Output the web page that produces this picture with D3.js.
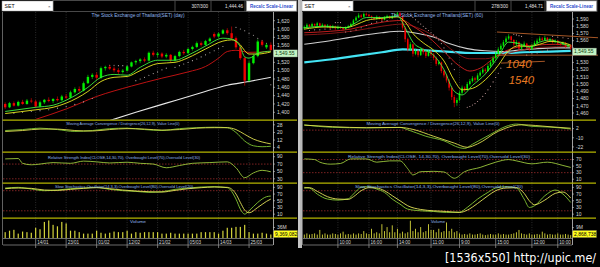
<!DOCTYPE html>
<html lang="en">
<head>
<meta charset="UTF-8">
<title>SET daily / 60 min</title>
<script src="https://d3js.org/d3.v7.min.js"></script>
<style>
  html, body { margin: 0; padding: 0; background: #000; overflow: hidden; }
  svg { display: block; font-family: "Liberation Sans", Arial, sans-serif; }
</style>
</head>
<body>
<svg id="chart" width="600" height="267"></svg>
<script>
// ---- daily chart (left) ----
// [open, high, low, close]
const dayCandles = [
  [1420,1424,1408,1412],[1412,1425,1410,1422],[1422,1426,1414,1416],[1416,1428,1414,1425],[1425,1430,1418,1420],
  [1420,1432,1418,1428],[1428,1434,1422,1426],[1426,1430,1410,1414],[1414,1428,1412,1424],[1424,1432,1420,1430],
  [1430,1436,1424,1427],[1427,1434,1422,1432],[1432,1438,1426,1429],[1429,1442,1427,1438],[1438,1444,1432,1435],
  [1435,1452,1434,1448],[1448,1460,1445,1456],[1456,1462,1448,1452],[1452,1474,1450,1470],[1470,1490,1468,1485],
  [1485,1494,1480,1490],[1490,1496,1478,1483],[1483,1510,1480,1506],[1506,1512,1500,1509],[1509,1514,1502,1505],
  [1505,1510,1496,1501],[1501,1506,1492,1497],[1497,1504,1493,1500],[1500,1512,1498,1510],[1510,1522,1508,1520],
  [1520,1526,1514,1523],[1523,1530,1518,1527],[1527,1532,1520,1524],[1524,1546,1522,1543],[1543,1548,1534,1538],
  [1538,1545,1532,1541],[1541,1544,1530,1534],[1534,1542,1530,1538],[1538,1540,1520,1525],[1525,1538,1522,1535],
  [1535,1548,1532,1545],[1545,1550,1538,1542],[1542,1555,1540,1552],[1552,1560,1548,1557],[1557,1570,1554,1566],
  [1566,1570,1558,1562],[1562,1574,1560,1571],[1571,1580,1568,1577],[1588,1592,1578,1582],[1582,1592,1580,1589],
  [1589,1600,1587,1597],[1597,1602,1586,1590],[1590,1606,1574,1578],[1578,1582,1552,1556],[1556,1560,1526,1530],
  [1530,1534,1464,1476],[1476,1524,1472,1518],[1518,1540,1515,1535],[1535,1575,1532,1570],[1570,1574,1558,1562],
  [1556,1566,1552,1562],[1562,1568,1546,1549.55]
];
const dayVolume = [20,25,28,15,22,20,18,35,30,55,60,45,40,55,50,25,25,20,15,15,15,25,18,15,18,22,20,20,25,15,
  20,18,20,20,20,20,15,15,18,15,15,15,15,15,15,20,20,20,20,15,25,35,35,38,38,45,20,15,15,18,15,12];
// moving averages, [bar, value]
const dayMaFast = [[0,1402],[7,1412],[11,1417],[14,1429],[19,1460],[22,1484],[25,1491],[28,1489],[31,1508],[35,1525],
  [39,1525],[42,1537],[46,1559],[50,1578],[52,1576],[54,1557],[55,1533],[56,1530],[58,1542],[61,1547]];
const dayMaSlow = [[0,1397],[7,1406],[11,1412],[14,1422],[19,1450],[22,1474],[25,1484],[28,1486],[31,1500],[35,1517],
  [39,1520],[42,1531],[46,1552],[50,1571],[52,1574],[54,1562],[55,1548],[56,1540],[58,1540],[61,1545]];
const dayMaMid = [[7,1383],[14,1408],[21,1438],[29,1463],[36,1482],[42,1497],[46,1510],[49,1530],[51,1546],[53,1549],[56,1544],[61,1546]];
const dayMaLong = [[24,1380],[30,1400],[37,1422],[45,1447],[51,1465],[56,1474],[61,1484]];
const daySar = [[2,1398],[4,1400],[6,1402],[8,1404],[10,1406],[12,1410],[14,1414],[16,1419],[18,1425],[20,1433],
  [24,1513],[25,1513],[26,1512],[27,1512],[28,1511],[30,1476],[31,1480],[32,1484],[33,1489],[34,1493],[35,1497],
  [36,1502],[37,1506],[39,1508],[40,1512],[41,1516],[42,1520],[43,1524],[44,1528],[45,1533],[46,1538],[47,1543],
  [48,1548],[49,1553],[50,1558],[53,1604],[54,1600],[55,1596],[56,1590],[57,1585],[58,1578],[59,1572],[60,1566],[61,1466]];
const dayMacd = [[0,22],[4,23],[8,24.5],[12,23],[16,21],[20,22],[24,24],[28,24.5],[32,23],[36,22],[40,24],[44,25],
  [48,25.5],[51,25],[53,20],[55,11],[57,6],[59,5],[61,5.5]];
const daySignal = [[0,21],[4,22],[8,23.5],[12,23.5],[16,22],[20,21.5],[24,23],[28,24],[32,23.5],[36,22.5],[40,23],
  [44,24.5],[48,25],[51,25],[53,23],[55,18],[57,13],[59,10],[61,8]];
const dayRsi = [[0,84],[3,85],[4,72],[6,68],[8,70],[11,74],[15,72],[18,78],[21,76],[24,73],[28,75],[31,72],[34,70],
  [37,60],[40,66],[43,72],[47,74],[51,76],[53,60],[55,33],[57,46],[59,53],[61,49]];
const dayStochK = [[0,88],[3,90],[6,85],[9,80],[12,82],[15,86],[18,88],[21,90],[24,84],[27,80],[30,78],[33,75],[36,77],
  [39,84],[42,88],[45,91],[48,92],[51,89],[53,55],[54,25],[55,10],[56,20],[58,45],[60,62],[61,64]];
const dayStochD = [[0,86],[3,88],[6,87],[9,82],[12,81],[15,84],[18,87],[21,89],[24,86],[27,82],[30,79],[33,77],[36,76],
  [39,81],[42,86],[45,89],[48,91],[51,90],[53,70],[54,45],[55,22],[56,14],[58,30],[60,48],[61,55]];
const dayGridBars = [7,14,21,28,35,42,49,56];
const dayGridLabels = ["14/01","23/01","01/02","12/02","21/02","05/03","14/03","25/03"];

// ---- 60 minute chart (right) ----
const hourCandles = [
  [1577,1581,1575,1579],[1579,1584,1578,1582],[1582,1583,1578,1580],[1580,1585,1579,1583],[1583,1584,1579,1581],
  [1581,1586,1580,1584],[1584,1585,1578,1580],[1580,1584,1579,1582],[1582,1583,1577,1579],[1579,1583,1578,1581],
  [1581,1582,1576,1578],[1578,1582,1577,1580],[1580,1581,1575,1577],[1577,1581,1576,1579],[1579,1580,1576,1578],
  [1578,1579,1574,1576],[1576,1580,1575,1578],[1578,1582,1577,1580],[1580,1585,1579,1583],[1583,1590,1582,1588],
  [1588,1594,1587,1592],[1592,1598,1591,1595],[1595,1597,1591,1593],[1593,1599,1592,1597],[1597,1599,1594,1596],
  [1596,1597,1592,1594],[1594,1595,1590,1592],[1592,1593,1588,1590],[1590,1595,1589,1593],[1593,1594,1589,1591],
  [1591,1592,1587,1589],[1589,1594,1588,1592],[1592,1596,1591,1594],[1594,1595,1590,1591],[1591,1595,1590,1593],
  [1593,1598,1592,1596],[1596,1601,1595,1598],[1598,1600,1592,1594],[1594,1595,1575,1578],[1578,1580,1558,1562],
  [1562,1564,1545,1548],[1548,1558,1546,1555],[1555,1556,1538,1542],[1542,1549,1540,1546],[1546,1548,1537,1540],
  [1540,1551,1539,1548],[1548,1550,1541,1544],[1544,1546,1536,1539],[1539,1548,1538,1545],[1545,1547,1538,1541],
  [1541,1543,1533,1536],[1536,1538,1525,1528],[1528,1533,1526,1530],[1530,1531,1515,1518],[1518,1520,1509,1512],
  [1512,1514,1502,1505],[1505,1507,1491,1495],[1495,1497,1478,1482],[1482,1485,1468,1474],[1474,1481,1470,1478],
  [1478,1491,1476,1488],[1488,1498,1486,1495],[1495,1497,1489,1492],[1492,1503,1491,1500],[1500,1507,1498,1504],
  [1504,1511,1502,1508],[1508,1510,1503,1506],[1506,1515,1505,1512],[1512,1519,1510,1516],[1516,1523,1514,1520],
  [1520,1522,1515,1518],[1518,1528,1517,1525],[1525,1533,1523,1530],[1530,1539,1528,1536],[1536,1545,1534,1542],
  [1542,1551,1540,1548],[1548,1556,1546,1553],[1553,1561,1551,1558],[1558,1566,1556,1563],[1563,1569,1561,1566],
  [1566,1567,1558,1561],[1561,1562,1552,1555],[1555,1561,1553,1558],[1558,1559,1546,1549],[1549,1556,1547,1553],
  [1553,1559,1551,1556],[1556,1557,1548,1550],[1550,1552,1545,1548],[1548,1556,1547,1553],[1553,1560,1552,1557],
  [1557,1563,1555,1560],[1560,1566,1558,1563],[1563,1565,1559,1561],[1561,1567,1560,1564],[1564,1565,1558,1560],
  [1560,1564,1559,1562],[1562,1563,1556,1558],[1558,1562,1557,1560],[1560,1561,1554,1556],[1556,1557,1553,1555],
  [1555,1559,1554,1557],[1557,1558,1550,1552],[1552,1556,1551,1554],[1554,1555,1547,1549.55]
];
const hourVolume = [3,4,3,3.5,4,3,7,3,4,3,3,4,3.5,3,4,5.5,3,3.5,3,4,3,4,3.5,6,4,3.5,8,4,5,4,
  12,6,9.5,5,11,5,8,4,5.5,4,5,15,6,8,5,9.5,5,6,12,7,7,5,8,5,6,13.5,6,8,5,6,
  4,3,3.5,3,4,3,3,3.5,4,3,2.5,3,3.5,3,3,4,3,3.5,3,3,3.5,4,5,7,4,3.5,3,4,3,3,
  3.5,3,5.5,4,3,3.5,3,3,4,3,3,3.5,3,2.5];
const hourMaFast = [[0,1578],[8,1580],[16,1578],[20,1585],[24,1592],[30,1592],[36,1594],[39,1578],[42,1558],[46,1548],
  [50,1540],[54,1520],[58,1490],[61,1485],[65,1498],[70,1514],[75,1538],[79,1558],[83,1556],[87,1551],[91,1558],
  [95,1561],[99,1557],[103,1552]];
const hourMaSlow = [[0,1576],[8,1579],[16,1578],[20,1582],[24,1588],[30,1591],[36,1593],[39,1586],[42,1570],[46,1557],
  [50,1547],[54,1532],[58,1505],[61,1492],[65,1494],[70,1506],[75,1526],[79,1546],[83,1553],[87,1552],[91,1555],
  [95,1559],[99,1558],[103,1554]];
const hourMaRed = [[0,1571],[10,1573],[18,1576],[25,1582],[33,1587],[38,1588],[42,1580],[48,1565],[54,1545],[60,1525],
  [64,1518],[68,1522],[73,1535],[78,1546],[84,1552],[90,1554],[97,1555],[103,1553]];
const hourMaDark = [[0,1568],[10,1570],[20,1574],[30,1580],[38,1583],[45,1576],[52,1562],[58,1545],[64,1535],[70,1535],
  [76,1540],[84,1547],[92,1551],[103,1552]];
const hourMaWhite = [[0,1555],[10,1560],[20,1566],[30,1571],[37,1573],[44,1570],[50,1565],[56,1556],[63,1549],[70,1546],
  [76,1545],[83,1547],[90,1549],[97,1550],[103,1550]];
const hourMaCyan = [[0,1530],[10,1534],[20,1539],[30,1544],[38,1548],[45,1547],[55,1545],[65,1543],[75,1543],[85,1544],
  [95,1545],[103,1546]];
const hourSar = [[2,1574],[4,1575],[6,1575],[8,1576],[10,1576],[12,1585],[13,1585],[14,1585],[16,1572],[18,1573],
  [20,1575],[22,1578],[24,1581],[26,1584],[28,1586],[30,1587],[32,1588],[38,1601],[39,1600],[40,1598],[41,1595],
  [42,1592],[43,1589],[44,1586],[45,1583],[46,1580],[47,1577],[48,1574],[49,1571],[50,1568],[51,1565],[52,1561],
  [53,1556],[54,1550],[55,1543],[56,1536],[57,1528],[58,1520],[63,1468],[64,1469],[65,1471],[66,1473],[67,1476],
  [68,1479],[69,1483],[70,1487],[71,1492],[72,1497],[73,1503],[74,1509],[75,1515],[76,1522],[81,1569],[82,1568],
  [83,1567],[84,1566],[86,1540],[88,1542],[90,1543],[92,1545],[94,1547],[96,1566],[98,1565],[100,1564],[102,1563]];
const hourMacd = [[0,7],[11,3.7],[24,3],[37,3.5],[40,0.5],[47,-8],[54,-14],[60,-23],[62,-24],[65,-18.5],[72,-5.5],
  [78,5],[82,8],[88,5],[95,4],[103,1.5]];
const hourSignal = [[0,6.5],[11,4.5],[24,3.2],[37,3.6],[42,1],[50,-8],[58,-17],[63,-22.5],[67,-18],[75,-1.5],[84,7],
  [95,4.5],[103,2.5]];
const hourRsi = [[0,72],[4,70],[6,62],[10,56],[14,58],[18,72],[24,72],[28,62],[33,66],[37,66],[40,42],[42,23],[45,33],
  [50,34],[54,32],[58,13],[62,33],[68,46],[74,62],[79,70],[82,66],[88,57],[94,62],[100,52],[103,46]];
const hourStochK = [[0,90],[2,88],[5,70],[9,55],[13,52],[17,56],[19,70],[22,90],[25,92],[28,85],[31,75],[34,55],[37,40],
  [40,25],[45,20],[50,18],[55,15],[60,16],[63,30],[67,55],[71,75],[74,88],[78,92],[82,88],[85,55],[87,30],[89,35],
  [93,65],[97,82],[100,70],[103,45]];
const hourStochD = [[0,88],[2,89],[5,78],[9,62],[13,55],[17,54],[19,62],[22,80],[25,89],[28,88],[31,80],[34,65],[37,50],
  [40,35],[45,24],[50,20],[55,18],[60,15],[63,22],[67,42],[71,65],[74,80],[78,88],[82,89],[85,72],[87,50],[89,38],
  [93,52],[97,72],[100,76],[103,58]];
const hourGridBars = [13,25,36,49,60,74,88,98];
const hourGridLabels = ["10:00","16:00","14:00","11:00","9:00","15:00","12:00","10:00"];
// drawn trend lines [bar0, price0, bar1, price1] and notes [text, bar, price]
const hourTrendLines = [[74.5,1572,114,1564],[74.5,1540,114,1540],[76,1529,93,1531.5]];
const hourNotes = [["1040",78,1522],["1540",79,1500]];

const svg = d3.select("#chart");
svg.append("rect").attr("width", 600).attr("height", 267).attr("fill", "#000");

const rows = { price: [12, 119.5], macd: [121, 151.5], rsi: [153, 182.5], stoch: [184, 217.5], vol: [219, 238] };
const fmt = d3.format(",");

function drawChart(p) {
  const n = p.candles.length;
  const x = d3.scaleLinear().domain([-0.5, n - 0.5]).range([p.left, p.right]);
  const step = x(1) - x(0);
  const yP = d3.scaleLinear().domain(p.priceDomain).range(p.priceRange);
  const yM = d3.scaleLinear().domain(p.macdDomain).range([rows.macd[1], rows.macd[0]]);
  const yR = d3.scaleLinear().domain(p.rsiDomain).range([rows.rsi[1], rows.rsi[0]]);
  const yS = d3.scaleLinear().domain([0, 100]).range([rows.stoch[1], rows.stoch[0]]);
  const yV = d3.scaleLinear().domain(p.volDomain).range([rows.vol[1], rows.vol[0]]);
  const g = svg.append("g");

  const clip = (name, r, x1) => {
    const id = p.id + name;
    svg.append("clipPath").attr("id", id).append("rect")
      .attr("x", p.left).attr("y", r[0]).attr("width", (x1 || p.right) - p.left).attr("height", r[1] - r[0]);
    return "url(#" + id + ")";
  };
  const cP = clip("p", rows.price), cM = clip("m", rows.macd), cR = clip("r", rows.rsi),
        cS = clip("s", rows.stoch), cV = clip("v", rows.vol), cT = clip("t", rows.price, 598);

  // frame: left edge, price axis line, bottom axis lines
  g.append("line").attr("x1", p.left - 0.5).attr("x2", p.left - 0.5).attr("y1", 12).attr("y2", 245)
    .attr("stroke", "#7a7a7a").attr("stroke-width", 0.8);
  g.append("line").attr("x1", p.right + 0.5).attr("x2", p.right + 0.5).attr("y1", 12).attr("y2", 245)
    .attr("stroke", "#c8c8c8").attr("stroke-width", 0.8);
  [238.5, 245].forEach(yy => g.append("line").attr("x1", p.left).attr("x2", p.right).attr("y1", yy).attr("y2", yy)
    .attr("stroke", "#9a9a9a").attr("stroke-width", 0.7));

  // vertical grid
  g.selectAll(".grid").data(p.gridBars).join("line")
    .attr("x1", d => x(d)).attr("x2", d => x(d)).attr("y1", 12).attr("y2", 238)
    .attr("stroke", "#3c3c3c").attr("stroke-width", 0.7).attr("stroke-dasharray", "1,1.5");
  g.selectAll(".gtick").data(p.gridBars).join("line")
    .attr("x1", d => x(d)).attr("x2", d => x(d)).attr("y1", 238.5).attr("y2", 248)
    .attr("stroke", "#9a9a9a").attr("stroke-width", 0.7);
  g.selectAll(".glab").data(p.gridBars).join("text")
    .attr("x", d => x(d) + 1.5).attr("y", 243.6).attr("font-size", 4.6).attr("fill", "#d8d8d8")
    .text((d, i) => p.gridLabels[i]);

  // panel separators
  [120.2, 152.2, 183.2, 218.2].forEach(yy => g.append("line")
    .attr("x1", p.left - 0.5).attr("x2", p.right + 24).attr("y1", yy).attr("y2", yy)
    .attr("stroke", "#b4b400").attr("stroke-width", 1.3));

  // dotted reference levels
  const refs = [[yR, p.rsiRefs], [yS, [80, 20]], [yM, p.macdRefs]];
  refs.forEach(([sc, vals]) => vals.forEach(v => g.append("line")
    .attr("x1", p.left).attr("x2", p.right).attr("y1", sc(v)).attr("y2", sc(v))
    .attr("stroke", "#b03030").attr("stroke-width", 0.7).attr("stroke-dasharray", "1.5,1.5")));

  const lineGen = sc => d3.line().x(d => x(d[0])).y(d => sc(d[1])).curve(d3.curveMonotoneX);
  const series = (clipUrl, pts, sc, color, w) => g.append("path").datum(pts).attr("clip-path", clipUrl)
    .attr("fill", "none").attr("stroke", color).attr("stroke-width", w).attr("d", lineGen(sc));

  // moving averages behind candles
  p.maLines.forEach(m => series(cP, m.data, yP, m.color, m.w));

  // parabolic sar dots
  g.append("g").attr("clip-path", cP).selectAll("circle").data(p.sar).join("circle")
    .attr("cx", d => x(d[0])).attr("cy", d => yP(d[1])).attr("r", 0.55).attr("fill", p.sarColor);

  // candles
  const cg = g.append("g").attr("clip-path", cP);
  const col = d => d[3] >= d[0] ? "#00f000" : "#f00000";
  cg.selectAll(".wick").data(p.candles).join("line")
    .attr("x1", (d, i) => x(i)).attr("x2", (d, i) => x(i))
    .attr("y1", d => yP(d[1])).attr("y2", d => yP(d[2]))
    .attr("stroke", col).attr("stroke-width", 0.6);
  cg.selectAll(".body").data(p.candles).join("rect")
    .attr("x", (d, i) => x(i) - step * p.bodyFrac / 2).attr("width", step * p.bodyFrac)
    .attr("y", d => yP(Math.max(d[0], d[3])))
    .attr("height", d => Math.max(0.8, Math.abs(yP(d[0]) - yP(d[3]))))
    .attr("fill", col);

  // fast lines on top of candles
  p.topLines.forEach(m => series(cP, m.data, yP, m.color, m.w));

  // drawn trend lines and notes
  (p.trend || []).forEach(t => g.append("line").attr("clip-path", cT)
    .attr("x1", x(t[0])).attr("y1", yP(t[1])).attr("x2", x(t[2])).attr("y2", yP(t[3]))
    .attr("stroke", "#b8602a").attr("stroke-width", 0.9));
  (p.notes || []).forEach(t => g.append("text").attr("x", x(t[1])).attr("y", yP(t[2]))
    .attr("font-size", 11.5).attr("font-style", "italic").attr("fill", "#e87a22").text(t[0]));

  // indicators
  series(cM, p.macd, yM, "#7cc232", 0.9);
  series(cM, p.signal, yM, "#dede50", 0.9);
  series(cR, p.rsi, yR, "#9cc83c", 0.9);
  series(cS, p.stochK, yS, "#84c834", 0.9);
  series(cS, p.stochD, yS, "#e4e45a", 0.9);

  // volume
  g.append("g").attr("clip-path", cV).selectAll("rect").data(p.volume).join("rect")
    .attr("x", (d, i) => x(i) - p.volW / 2).attr("width", p.volW)
    .attr("y", d => yV(d)).attr("height", d => yV(0) - yV(d)).attr("fill", "#d4d43c");

  // titles
  p.titles.forEach(t => g.append("text").attr("x", t[1]).attr("y", t[2]).attr("text-anchor", "middle")
    .attr("font-size", t[4]).attr("fill", "#8fb4ea").attr("textLength", t[3])
    .attr("lengthAdjust", "spacingAndGlyphs").text(t[0]));

  // last value box position (sits a little under the value, as in the original)
  const lastY = yP(p.candles[n - 1][3]) + 3.4;

  // axis ticks and labels
  const axisLabels = (sc, ticks, f, skip) => ticks.forEach(v => {
    g.append("line").attr("x1", p.right).attr("x2", p.right + 2).attr("y1", sc(v)).attr("y2", sc(v))
      .attr("stroke", "#c8c8c8").attr("stroke-width", 0.6);
    if (skip && Math.abs(sc(v) - skip) < 7) return;  // hidden under the value box
    g.append("text").attr("x", p.right + 4).attr("y", sc(v) + 1.8).attr("font-size", 5)
      .attr("fill", "#d8d8d8").text(f ? f(v) : v);
  });
  axisLabels(yP, p.priceTicks, fmt, lastY);
  axisLabels(yM, p.macdTicks);
  axisLabels(yR, p.rsiTicks);
  axisLabels(yS, [90, 70, 50, 30, 10]);
  axisLabels(yV, [p.volTick], v => v + "M");

  // last value boxes
  const box = (cy, fill, txt, color) => {
    g.append("rect").attr("x", p.right + 0.5).attr("y", cy - 3.6).attr("width", 24).attr("height", 7.2)
      .attr("fill", fill).attr("stroke", "#606060").attr("stroke-width", 0.4);
    g.append("text").attr("x", p.right + 2).attr("y", cy + 1.8).attr("font-size", 5).attr("fill", color).text(txt);
  };
  box(lastY, "#c4f4c4", "1,549.55", "#104010");
  box(234, "#ffff1e", p.volBox, "#000");

  // top bar
  const o = p.barX;
  g.append("rect").attr("x", o + 53).attr("y", 0.5).attr("width", 244).attr("height", 11)
    .attr("fill", "#000").attr("stroke", "#5a5a5a").attr("stroke-width", 0.8);
  [175, 211, 245].forEach(s => g.append("line").attr("x1", o + s).attr("x2", o + s).attr("y1", 0.5).attr("y2", 11.5)
    .attr("stroke", "#5a5a5a").attr("stroke-width", 0.8));
  g.append("rect").attr("x", o + 2).attr("y", 1).attr("width", 51).attr("height", 10)
    .attr("fill", "#fff").attr("stroke", "#999").attr("stroke-width", 0.5);
  g.append("text").attr("x", o + 4.5).attr("y", 8).attr("font-size", 5.2).attr("fill", "#000").text("SET");
  g.append("text").attr("x", o + 48).attr("y", 7.8).attr("font-size", 4.4).attr("fill", "#444").text("×");
  g.append("text").attr("x", o + 208).attr("y", 8).attr("text-anchor", "end").attr("font-size", 4.6)
    .attr("fill", "#e0e0e0").text(p.counter);
  g.append("text").attr("x", o + 243).attr("y", 8).attr("text-anchor", "end").attr("font-size", 4.6)
    .attr("fill", "#e0e0e0").text(p.cursor);
  g.append("rect").attr("x", o + 246.5).attr("y", 1).attr("width", 50).attr("height", 10)
    .attr("fill", "#fff").attr("stroke", "#aaa").attr("stroke-width", 0.5);
  g.append("text").attr("x", o + 271.5).attr("y", 8).attr("text-anchor", "middle").attr("font-size", 5)
    .attr("font-weight", "bold").attr("fill", "#2f4fcc").attr("textLength", 43)
    .attr("lengthAdjust", "spacingAndGlyphs").text("Recalc Scale-Linear");
}

drawChart({
  id: "L", left: 3, right: 273, barX: 0,
  candles: dayCandles, volume: dayVolume, bodyFrac: 0.55, volW: 1.2,
  priceDomain: [1400, 1620], priceRange: [112.3, 20.7], priceTicks: d3.range(1400, 1621, 20),
  macdDomain: [0, 32], macdTicks: [28, 20, 12, 4], macdRefs: [],
  rsiDomain: [20, 100], rsiTicks: [90, 70, 50, 30], rsiRefs: [70, 30],
  volDomain: [0, 65], volTick: 36, volBox: "9,369,082",
  maLines: [{ data: dayMaLong, color: "#e6e6e6", w: 1.1 }, { data: dayMaMid, color: "#d01414", w: 0.9 }],
  topLines: [{ data: dayMaSlow, color: "#eaea20", w: 0.9 }, { data: dayMaFast, color: "#40f040", w: 0.9 }],
  sar: daySar, sarColor: "#bdb4b4",
  macd: dayMacd, signal: daySignal, rsi: dayRsi, stochK: dayStochK, stochD: dayStochD,
  gridBars: dayGridBars, gridLabels: dayGridLabels,
  counter: "307/300", cursor: "1,444.46",
  titles: [
    ["The Stock Exchange of Thailand(SET) (day)", 138, 17, 93, 4.6],
    ["Moving Average Convergence / Divergence(26,12,9), Value Line(0)", 123, 125, 113, 4.2],
    ["Relative Strength Index(CLOSE,14,30,70), Overbought Level(70),Oversold Level(30)", 124, 159.3, 152, 4.2],
    ["Slow Stochastics Oscillator(14,3,3),Overbought Level(80),Oversold Level(20)", 124, 188.3, 138, 4.2],
    ["Volume", 138, 222.8, 16, 4.2]
  ]
});

drawChart({
  id: "R", left: 303, right: 572, barX: 300,
  candles: hourCandles, volume: hourVolume, bodyFrac: 0.6, volW: 0.9,
  priceDomain: [1460, 1590], priceRange: [113, 19], priceTicks: d3.range(1460, 1591, 10),
  macdDomain: [-28, 12], macdTicks: [2, -10, -22], macdRefs: [0],
  rsiDomain: [0, 90], rsiTicks: [70, 50, 30, 10], rsiRefs: [70, 30],
  volDomain: [0, 16.5], volTick: 9, volBox: "2,868,738",
  maLines: [{ data: hourMaCyan, color: "#44e4f4", w: 2.2 }, { data: hourMaWhite, color: "#cfcfcf", w: 1.1 },
            { data: hourMaDark, color: "#901818", w: 0.9 }, { data: hourMaRed, color: "#d42020", w: 0.9 }],
  topLines: [{ data: hourMaSlow, color: "#eaea20", w: 0.9 }, { data: hourMaFast, color: "#40f040", w: 0.9 }],
  sar: hourSar, sarColor: "#d2a6a6",
  macd: hourMacd, signal: hourSignal, rsi: hourRsi, stochK: hourStochK, stochD: hourStochD,
  gridBars: hourGridBars, gridLabels: hourGridLabels,
  trend: hourTrendLines, notes: hourNotes,
  counter: "278/300", cursor: "1,484.71",
  titles: [
    ["The Stock Exchange of Thailand(SET) (60)", 437, 17, 92, 4.6],
    ["Moving Average Convergence / Divergence(26,12,9), Value Line(0)", 433, 125, 133, 4.2],
    ["Relative Strength Index(CLOSE, 14,30,70), Overbought Level(70),Oversold Level(30)", 439, 157.5, 182, 4.2],
    ["Slow Stochastics Oscillator(14,3,3),Overbought Level(80),Oversold Level(20)", 439, 188, 168, 4.2],
    ["Volume", 438, 222.8, 14, 4.2]
  ]
});

// splitter between the two windows
svg.append("rect").attr("x", 298).attr("y", 0).attr("width", 4).attr("height", 248).attr("fill", "#b8b8b8");
svg.append("line").attr("x1", 299).attr("x2", 299).attr("y1", 0).attr("y2", 248).attr("stroke", "#e8e8e8").attr("stroke-width", 0.6);
svg.append("rect").attr("x", 0).attr("y", 248).attr("width", 600).attr("height", 19).attr("fill", "#000");

svg.append("text").attr("x", 445).attr("y", 261.5).attr("font-family", "DejaVu Sans Condensed, DejaVu Sans")
  .attr("font-stretch", "condensed").attr("font-size", 12.4).attr("fill", "#fff")
  .text("[1536x550] http://upic.me/");
</script>
</body>
</html>
